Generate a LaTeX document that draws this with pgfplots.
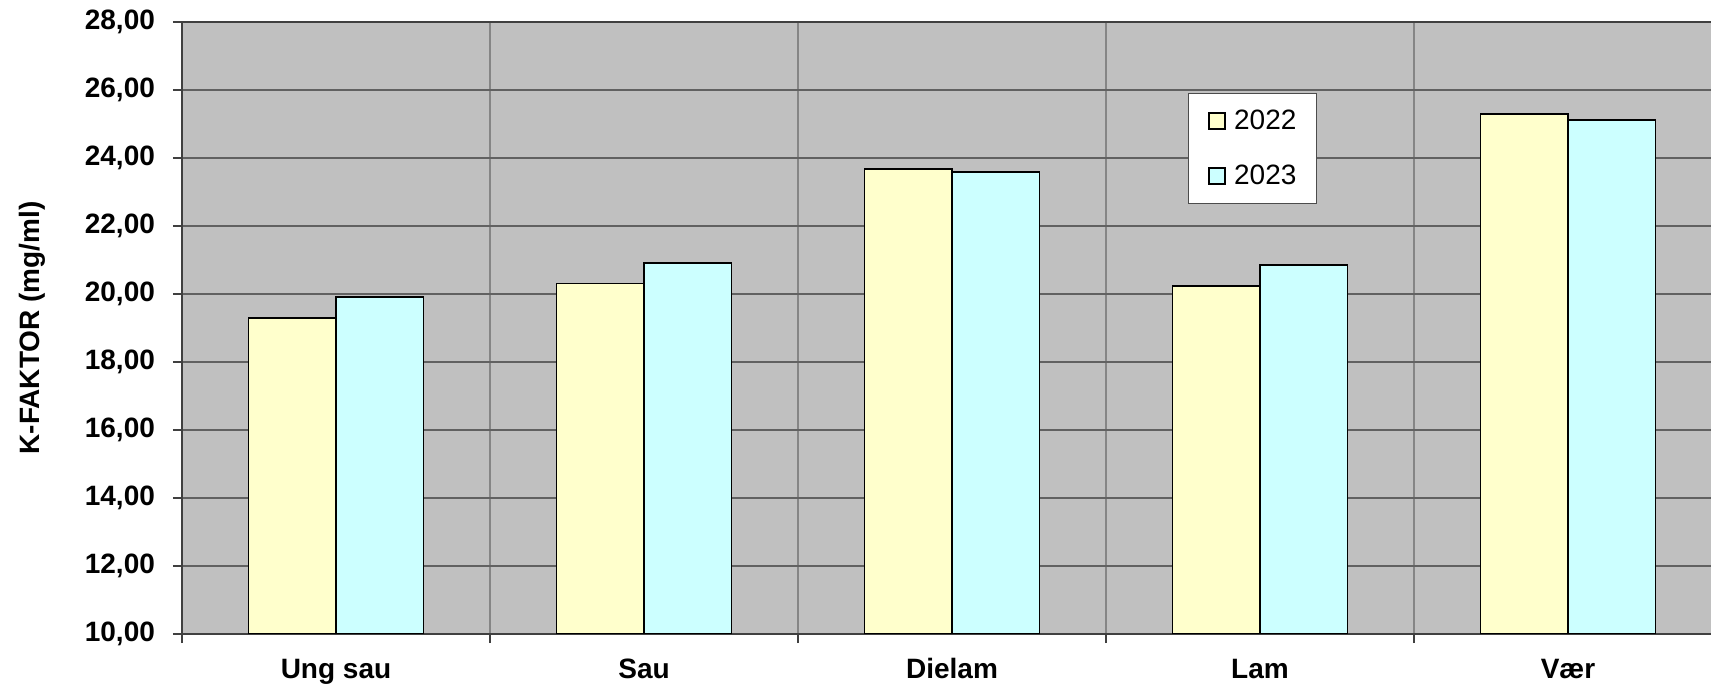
\documentclass[border=0pt]{standalone}
\usepackage{fontspec}
\setmainfont{Liberation Sans}
\usepackage{pgfplots}
\pgfplotsset{compat=1.18}
\definecolor{bggray}{HTML}{C0C0C0}
\definecolor{c22}{HTML}{FFFFCC}
\definecolor{c23}{HTML}{CCFFFF}
\begin{document}
\begin{tikzpicture}
\begin{axis}[
  at={(0,0)}, anchor=south west,
  scale only axis, width=770pt, height=306pt,
  xmin=-0.5, xmax=4.5, ymin=10, ymax=28,
  ybar=0pt, bar width=43.75pt,
  axis background/.style={fill=bggray},
  ytick={10,12,...,28},
  ymajorgrids, y grid style={color=black!62, line width=0.8pt},
  xtick={-0.5,0.5,1.5,2.5,3.5,4.5}, xticklabels={},
  xmajorgrids, x grid style={color=black!48, line width=0.8pt},
  extra x ticks={0,1,2,3,4},
  extra x tick labels={Ung sau,Sau,Dielam,Lam,Vær},
  extra x tick style={grid=none, major tick length=0pt},
  xtick pos=bottom, ytick pos=left,
  tick align=outside, major tick length=4.5pt,
  tick style={color=black!75, line width=0.6pt},
  axis line style={color=black!75, line width=0.8pt},
  ticklabel style={font=\fontsize{14}{16}\selectfont\bfseries},
  /pgf/number format/.cd, fixed, fixed zerofill, precision=2, use comma, assume math mode=true,
  /pgfplots/.cd,
  xticklabel style={anchor=base, yshift=-22pt},
  yticklabel style={xshift=-5.5pt},
  every axis y label/.style={at={(axis description cs:-0.0974,0.5)}, rotate=90, anchor=center},
  ylabel={K-FAKTOR (mg/ml)},
  label style={font=\fontsize{14}{16}\selectfont\bfseries},
  legend style={at={(axis cs:2.766,25.91)}, anchor=north west, draw=black!70, fill=white,
    font=\fontsize{14}{16}\selectfont, row sep=16.3pt, inner xsep=10pt, inner ysep=8pt,
    nodes={inner sep=0pt},
    /tikz/every odd column/.append style={column sep=4pt}},
  legend image code/.code={\draw[#1] (0pt,-4pt) rectangle (8pt,4pt);},
]
\addplot[fill=c22, draw=black, line width=0.9pt] coordinates {(0,19.29) (1,20.31) (2,23.67) (3,20.24) (4,25.30)};
\addplot[fill=c23, draw=black, line width=0.9pt] coordinates {(0,19.92) (1,20.90) (2,23.59) (3,20.86) (4,25.11)};
\legend{2022,2023}
\end{axis}
\pgfresetboundingbox
\useasboundingbox (-91pt,-25pt) rectangle (764.5pt,317pt);
\end{tikzpicture}
\end{document}
